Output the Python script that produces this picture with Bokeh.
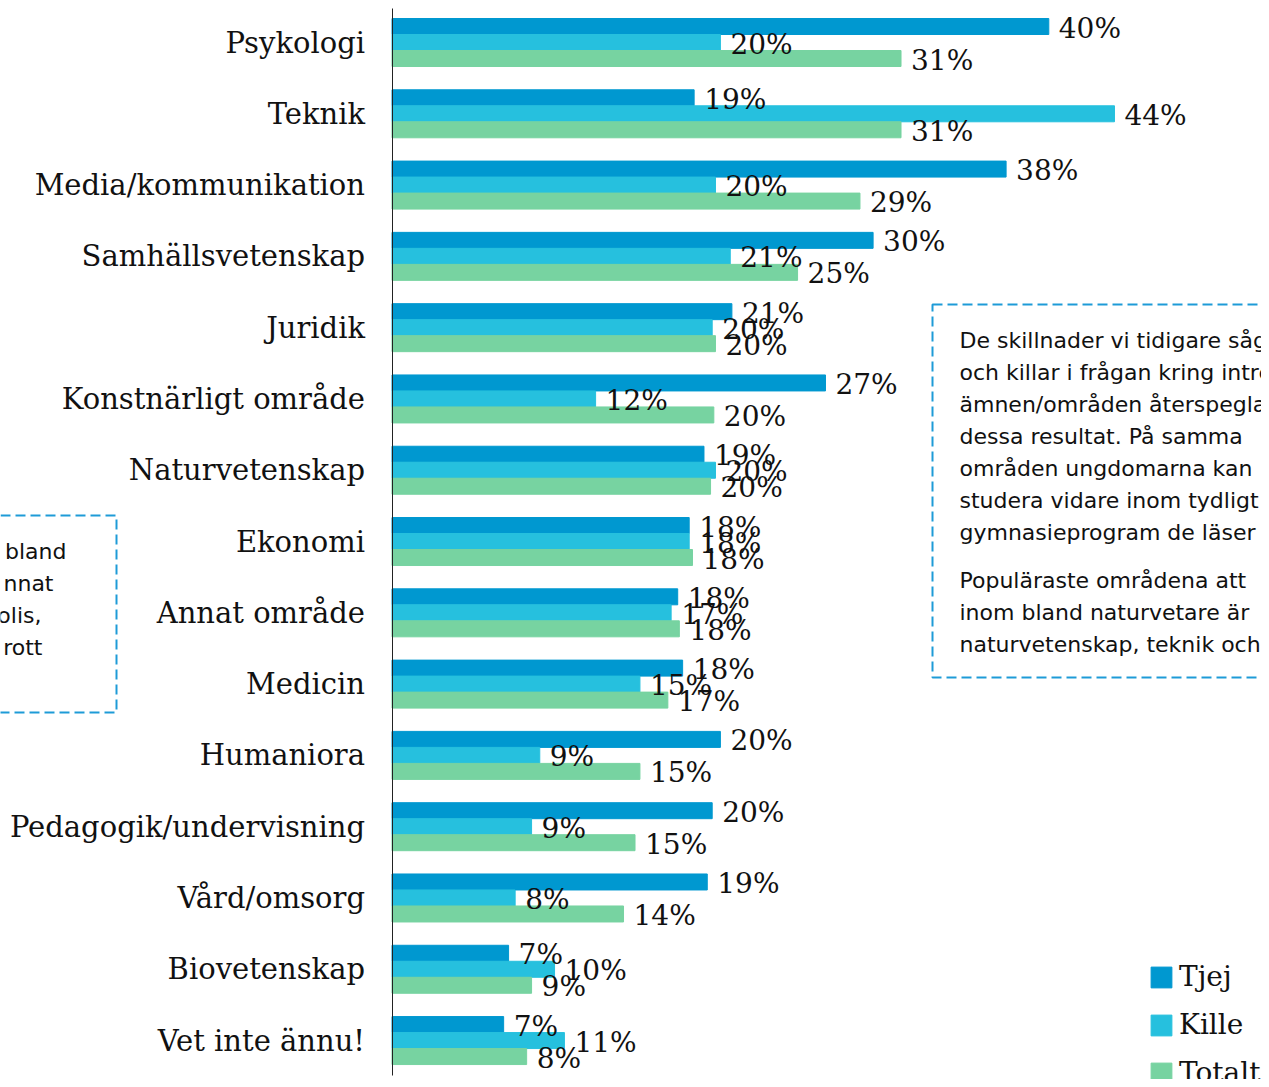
from bokeh.plotting import figure
from bokeh.models import (ColumnDataSource, Range1d, LinearAxis, FixedTicker,
                          BoxAnnotation, Label, Legend, LegendItem)
from bokeh.transform import dodge
from bokeh.core.properties import value
from bokeh.embed import file_html
from bokeh.resources import INLINE

# ---------------- data ----------------
categories = ["Psykologi", "Teknik", "Media/kommunikation", "Samhällsvetenskap",
              "Juridik", "Konstnärligt område", "Naturvetenskap", "Ekonomi",
              "Annat område", "Medicin", "Humaniora", "Pedagogik/undervisning",
              "Vård/omsorg", "Biovetenskap", "Vet inte ännu!"]
tjej = [40.0, 18.4, 37.4, 29.3, 20.7, 26.4, 19.0, 18.1, 17.4, 17.7, 20.0, 19.5, 19.2, 7.1, 6.8]
kille = [20.0, 44.0, 19.7, 20.6, 19.5, 12.4, 19.7, 18.1, 17.0, 15.1, 9.0, 8.5, 7.5, 9.9, 10.5]
totalt = [31.0, 31.0, 28.5, 24.7, 19.7, 19.6, 19.4, 18.3, 17.5, 16.8, 15.1, 14.8, 14.1, 8.5, 8.2]
tjej_labels = ["40%", "19%", "38%", "30%", "21%", "27%", "19%", "18%", "18%", "18%", "20%", "20%", "19%", "7%", "7%"]
kille_labels = ["20%", "44%", "20%", "21%", "20%", "12%", "20%", "18%", "17%", "15%", "9%", "9%", "8%", "10%", "11%"]
totalt_labels = ["31%", "31%", "29%", "25%", "20%", "20%", "20%", "18%", "18%", "17%", "15%", "15%", "14%", "9%", "8%"]
series = ["Tjej", "Kille", "Totalt"]

right_text = ["De skillnader vi tidigare såg", "och killar i frågan kring intresse",
              "ämnen/områden återspeglas", "dessa resultat. På samma",
              "områden ungdomarna kan", "studera vidare inom tydligt",
              "gymnasieprogram de läser"]
right_text2 = ["Populäraste områdena att", "inom bland naturvetare är",
               "naturvetenskap, teknik och"]
left_text = ["bland", "nnat", "olis,", "rott"]

# ---------------- layout helpers (reference pixels -> data) ----------------
X0, PXU = 391.5, 16.42          # x pixel of 0 %, pixels per percent
Y0, PITCH = 42.0, 71.29         # y pixel of first category centre, category pitch
N = len(categories)
W, H = 1261, 1079

def px_x(px):
    return (px - X0) / PXU

def px_y(py):
    return (N - 1) - (py - Y0) / PITCH

BH = 16.0 / PITCH               # bar thickness in data units

C_TJEJ, C_KILLE, C_TOT = "#0098D0", "#26C0DE", "#77D3A1"
C_BOX = "#1E9BD7"
SERIF = "DejaVu Serif"
SANS = "DejaVu Sans"

ys = [N - 1 - i for i in range(N)]
src = ColumnDataSource(dict(y=ys, tjej=tjej, kille=kille, totalt=totalt,
                            tl=tjej_labels, kl=kille_labels, ol=totalt_labels))

p = figure(width=W, height=H, output_backend="svg", toolbar_location=None,
           x_range=Range1d(px_x(0), px_x(W)), y_range=Range1d(px_y(H), px_y(0)),
           x_axis_location=None, y_axis_location=None, min_border=0,
           outline_line_color=None, background_fill_color="white")
p.xgrid.visible = False
p.ygrid.visible = False

r1 = p.hbar(y=dodge("y", BH), left=0, right="tjej", height=BH, color=C_TJEJ, source=src)
r2 = p.hbar(y=dodge("y", 0.0), left=0, right="kille", height=BH, color=C_KILLE, source=src)
r3 = p.hbar(y=dodge("y", -BH), left=0, right="totalt", height=BH, color=C_TOT, source=src)

for col, lab, off in (("tjej", "tl", BH), ("kille", "kl", 0.0), ("totalt", "ol", -BH)):
    p.text(x=col, y=dodge("y", off), text=lab, source=src, x_offset=10, y_offset=1.5,
           text_font=value(SERIF), text_font_size="28px", text_baseline="middle",
           text_align="left", text_color="#111111")

yaxis = LinearAxis(ticker=FixedTicker(ticks=ys),
                   major_label_overrides={y: c for y, c in zip(ys, categories)},
                   fixed_location=0, bounds=(px_y(1075), px_y(8)))
yaxis.axis_line_color = "#222222"
yaxis.axis_line_width = 1
yaxis.major_tick_out = 0
yaxis.major_tick_in = 0
yaxis.minor_tick_out = 0
yaxis.minor_tick_in = 0
yaxis.major_label_standoff = 27
yaxis.major_label_text_font = SERIF
yaxis.major_label_text_font_size = "29px"
yaxis.major_label_text_color = "#111111"
p.add_layout(yaxis, "left")

# dashed text boxes
box_r = BoxAnnotation(left=px_x(932), right=px_x(1320), top=px_y(304), bottom=px_y(677),
                      fill_color=None, fill_alpha=0, line_color=C_BOX, line_alpha=1.0,
                      line_width=2, line_dash="10 5")
box_l = BoxAnnotation(left=px_x(-60), right=px_x(116), top=px_y(515), bottom=px_y(712),
                      fill_color=None, fill_alpha=0, line_color=C_BOX, line_alpha=1.0,
                      line_width=2, line_dash="10 5")
p.add_layout(box_r)
p.add_layout(box_l)

for k, t in enumerate(right_text):
    p.add_layout(Label(x=px_x(959), y=px_y(339.5 + 32 * k), text=t, text_font=SANS,
                       text_font_size="22px", text_baseline="middle", text_color="#111111"))
for k, t in enumerate(right_text2):
    p.add_layout(Label(x=px_x(959), y=px_y(579.5 + 32 * k), text=t, text_font=SANS,
                       text_font_size="22px", text_baseline="middle", text_color="#111111"))
for k, (t, xe) in enumerate(zip(left_text, [66, 53, 41, 42])):
    p.add_layout(Label(x=px_x(xe), y=px_y(551 + 32 * k), text=t, text_font=SANS,
                       text_font_size="22px", text_baseline="middle", text_align="right",
                       text_color="#111111"))

legend = Legend(items=[LegendItem(label=s, renderers=[r]) for s, r in zip(series, (r1, r2, r3))],
                location=(1148, -10), orientation="vertical", glyph_width=26, glyph_height=26,
                label_height=21, label_standoff=5, spacing=15, padding=0, margin=0,
                border_line_color=None, background_fill_alpha=0,
                label_text_font=SERIF, label_text_font_size="28px",
                label_text_color="#111111")
p.add_layout(legend)

open("out.html", "w").write(file_html(p, INLINE))
